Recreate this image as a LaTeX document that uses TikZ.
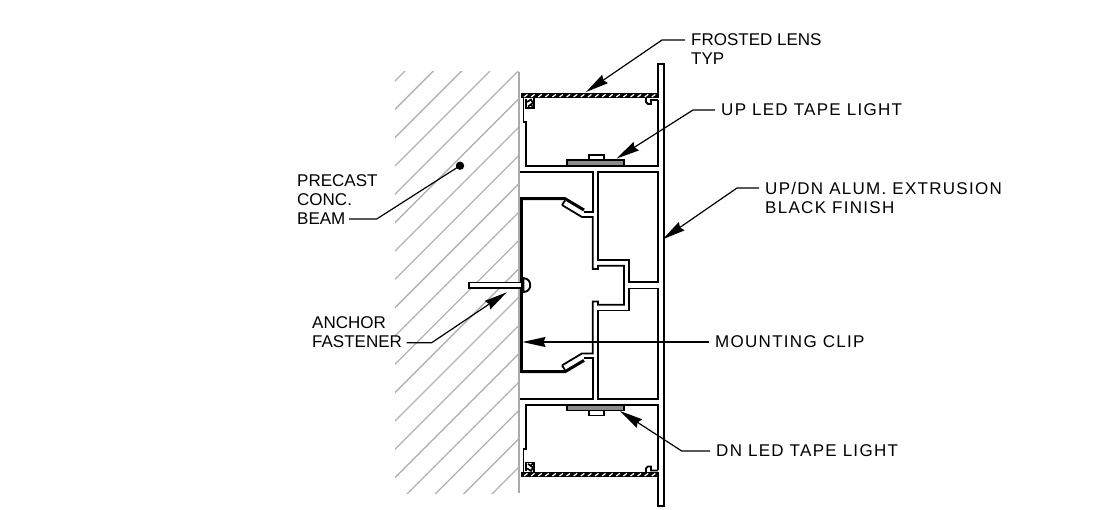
\documentclass[tikz,border=0pt]{standalone}
\usepackage{fontspec}
\setmainfont{Liberation Sans}
\newfontfamily\widefont[LetterSpace=7.6]{Liberation Sans}
\usetikzlibrary{arrows.meta}
\tikzset{
  profile/.style={line width=1.8pt,draw=black,line join=miter},
  thickline/.style={line width=3pt,draw=black,line cap=butt,line join=miter},
  hatchline/.style={line width=1.3pt,draw=black!30},
  wall/.style={line width=1.6pt,draw=black!33},
  leader/.style={line width=1.2pt,draw=black},
  tipped/.style={leader,-{Stealth[length=23pt,width=10pt,inset=2pt]}},
  label/.style={anchor=west,inner sep=0pt,align=left,font=\fontsize{17}{19}\selectfont},
  widelabel/.style={label,font=\widefont\fontsize{17}{19}\selectfont},
  ledbar/.style={line width=1.8pt,draw=black,fill=black!45},
}
\newcommand{\halfprofile}{%
  % cavity
  \draw[profile] (658,100) -- (658,165.7) -- (624,165.7) (566.7,165.7) -- (526,165.7) -- (526,121.7) -- (523.5,121.7) -- (523.5,98);
  % LED tape
  \draw[profile,fill=white] (589.3,160) rectangle (604,155);
  \draw[ledbar] (566.7,160) rectangle (624.3,165.7);
  % right lens catch
  \draw[profile] (646,98) -- (646,102) -- (648,104) -- (651,104) -- (651,100) -- (658,100);
  % left lens catch
  \draw[line width=1.5pt] (526,99) -- (526,108) -- (534,108) -- (534,98);
  \draw[line width=1.7pt] (527,102) -- (531,99.5) -- (533,103) -- (528,106.5) (530,104) -- (533,107);
  % web tops
  \draw[profile] (520,171.7) -- (592.7,171.7) -- (592.7,212.3) -- (583.5,212.3);
  \draw[profile] (562,205) -- (565,200.5) (562,205) -- (582,217) -- (592.7,217) -- (592.7,269) -- (598,269) -- (598,265.7) -- (624,265.7) -- (624,285.2);
  % box
  \draw[profile] (658,171.7) -- (598,171.7) -- (598,260) -- (629.3,260) -- (629.3,282) -- (658,282) -- cycle;
  % clip arm
  \draw[thickline] (521,198.7) -- (565,198.7) -- (584,210);
}
\newcommand{\lens}[1]{%
  \fill[black] (520.7,#1-2.6) rectangle (658,#1+2.6);
  \foreach \s in {0,...,18}{
    \draw[white,line width=1.2pt] (524+7.1*\s,#1+1.3) -- (527.5+7.1*\s,#1-1.3);
  }
}
\begin{document}
\begin{tikzpicture}[x=1pt,y=-1pt]
\useasboundingbox (0,0) rectangle (1106,509);
% concrete hatching
\begin{scope}
  \clip (395,71.7) rectangle (518.7,493.3);
  \foreach \k in {0,...,20}{
    \draw[hatchline] ({476+28.33*\k-500},500) -- ({476+28.33*\k},0);
  }
\end{scope}
\draw[wall] (518.7,71.7) -- (518.7,493.3);
% extrusion halves
\halfprofile
\begin{scope}[shift={(0,570.4)},yscale=-1]
\halfprofile
\end{scope}
\lens{95.7}
\lens{474.7}
% fin
\draw[profile] (658,98) -- (658,64) -- (664,64) -- (664,506) -- (658,506) -- (658,472);
% clip spine
\draw[thickline] (521,197.2) -- (521,373.2);
% anchor
\draw[profile,fill=white] (521,282.5) -- (469,282.5) -- (469,287.9) -- (521,287.9);
\draw[line width=1.9pt] (523.5,278.2) .. controls (532.5,278.2) and (532.5,292) .. (523.5,292) -- cycle;
% labels
\node[label] (lens) at (691,49) {FROSTED LENS\\TYP};
\node[widelabel] (upled) at (721,110) {UP LED TAPE LIGHT};
\node[widelabel] (ext) at (765,197.5) {UP/DN ALUM. EXTRUSION\\BLACK FINISH};
\node[label] (beam) at (297,200) {PRECAST\\CONC.\\BEAM};
\node[label] (anchor) at (312,332.5) {ANCHOR\\FASTENER};
\node[widelabel] (clip) at (715,342) {MOUNTING CLIP};
\node[widelabel] (dnled) at (716,451) {DN LED TAPE LIGHT};
% leaders
\coordinate (lensS) at (685,40);
\coordinate (lensE) at (662,40);
\coordinate (lensT) at (586,92);
\draw[tipped] (lensS) -- (lensE) -- (lensT);
\coordinate (upE) at (693,110);
\coordinate (upT) at (616.7,158.5);
\draw[tipped] ([xshift=-6pt]upled.west) -- (upE) -- (upT);
\coordinate (extS) at (759,188);
\coordinate (extE) at (737,188);
\coordinate (extT) at (662.7,239.3);
\draw[tipped] (extS) -- (extE) -- (extT);
\coordinate (dot) at (460,165.7);
\fill[black] (dot) circle[radius=4.2];
\coordinate (beamS) at (349,219);
\coordinate (beamE) at (376.7,219);
\draw[leader] (beamS) -- (beamE) -- (dot);
\coordinate (ancS) at (406.7,342.7);
\coordinate (ancE) at (431.7,342.7);
\coordinate (ancT) at (506.7,292.3);
\draw[tipped] (ancS) -- (ancE) -- (ancT);
\coordinate (clipT) at (522.5,342);
\draw[tipped] ([xshift=-6pt]clip.west) -- (clipT);
\coordinate (dnE) at (681.7,451);
\coordinate (dnT) at (620,411);
\draw[tipped] ([xshift=-6pt]dnled.west) -- (dnE) -- (dnT);
\end{tikzpicture}
\end{document}
